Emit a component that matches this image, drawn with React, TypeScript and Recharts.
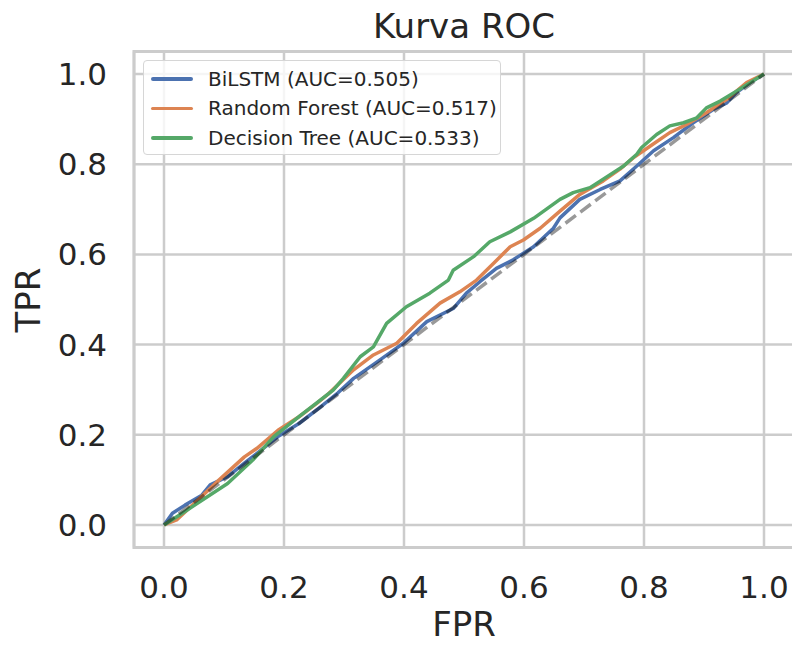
import React from 'react';
import { LineChart, Line, XAxis, YAxis, CartesianGrid, ReferenceArea } from 'recharts';

const axisTicks = [0, 0.2, 0.4, 0.6, 0.8, 1.0];

const bilstmFpr = [0, 0.014, 0.035, 0.063, 0.077, 0.106, 0.134, 0.155, 0.19, 0.225, 0.261, 0.29, 0.316, 0.36, 0.399, 0.438, 0.482, 0.504, 0.527, 0.554, 0.582, 0.616, 0.649, 0.66, 0.693, 0.727, 0.76, 0.788, 0.816, 0.849, 0.882, 0.916, 0.938, 0.954, 0.977, 1.0];
const bilstmTpr = [0, 0.026, 0.044, 0.066, 0.089, 0.107, 0.137, 0.159, 0.196, 0.225, 0.262, 0.293, 0.325, 0.366, 0.403, 0.451, 0.48, 0.514, 0.54, 0.569, 0.588, 0.617, 0.658, 0.681, 0.722, 0.744, 0.763, 0.796, 0.83, 0.859, 0.892, 0.922, 0.936, 0.959, 0.981, 1.0];

const forestFpr = [0, 0.021, 0.056, 0.092, 0.134, 0.155, 0.19, 0.225, 0.254, 0.275, 0.316, 0.349, 0.388, 0.421, 0.46, 0.493, 0.521, 0.549, 0.577, 0.599, 0.627, 0.66, 0.693, 0.732, 0.76, 0.782, 0.81, 0.843, 0.871, 0.904, 0.938, 0.971, 1.0];
const forestTpr = [0, 0.011, 0.055, 0.1, 0.151, 0.17, 0.21, 0.24, 0.269, 0.292, 0.344, 0.377, 0.403, 0.447, 0.492, 0.517, 0.543, 0.58, 0.617, 0.632, 0.658, 0.696, 0.733, 0.763, 0.789, 0.814, 0.84, 0.87, 0.888, 0.914, 0.944, 0.981, 1.0];

const treeFpr = [0, 0.035, 0.106, 0.148, 0.183, 0.225, 0.282, 0.299, 0.327, 0.349, 0.371, 0.404, 0.443, 0.474, 0.482, 0.516, 0.543, 0.577, 0.616, 0.66, 0.682, 0.71, 0.732, 0.766, 0.788, 0.796, 0.821, 0.843, 0.866, 0.888, 0.904, 0.927, 0.954, 1.0];
const treeTpr = [0, 0.03, 0.092, 0.144, 0.196, 0.24, 0.299, 0.325, 0.373, 0.395, 0.447, 0.484, 0.514, 0.543, 0.565, 0.595, 0.628, 0.65, 0.68, 0.722, 0.737, 0.748, 0.767, 0.796, 0.822, 0.837, 0.866, 0.885, 0.892, 0.903, 0.925, 0.94, 0.962, 1.0];

const chanceFpr = [0, 1];
const chanceTpr = [0, 1];

const seriesNames = ['BiLSTM (AUC=0.505)', 'Random Forest (AUC=0.517)', 'Decision Tree (AUC=0.533)'];
const seriesColors = ['#4C72B0', '#DD8452', '#55A868'];

const toPoints = (fpr: number[], tpr: number[]) => fpr.map((x, i) => ({ fpr: x, tpr: tpr[i] }));

const bilstm = toPoints(bilstmFpr, bilstmTpr);
const forest = toPoints(forestFpr, forestTpr);
const tree = toPoints(treeFpr, treeTpr);
const chance = toPoints(chanceFpr, chanceTpr);

const font = '"DejaVu Sans", sans-serif';
const textColor = '#262626';

function RocLegend() {
  return (
    <div
      style={{
        position: 'absolute',
        left: 143,
        top: 60,
        width: 358,
        height: 95,
        border: '1.5px solid #d6d6d6',
        borderRadius: 4,
        background: 'rgba(255,255,255,0.8)',
        boxSizing: 'border-box',
        paddingTop: 3,
      }}
    >
      {seriesNames.map((name, i) => (
        <div key={name} style={{ display: 'flex', alignItems: 'center', height: 29.5 }}>
          <div style={{ width: 42, height: 3.5, marginLeft: 7, background: seriesColors[i], borderRadius: 2 }} />
          <span style={{ marginLeft: 15, fontSize: 20, color: textColor, fontFamily: font, whiteSpace: 'nowrap' }}>{name}</span>
        </div>
      ))}
    </div>
  );
}

export default function App() {
  return (
    <div style={{ position: 'absolute', left: 0, top: 0, width: 792, height: 646, overflow: 'hidden', background: '#fff', fontFamily: font }}>
      <div style={{ position: 'absolute', left: 134, width: 660, top: 6, textAlign: 'center', fontSize: 34, color: textColor, lineHeight: '40px' }}>
        Kurva ROC
      </div>
      <div style={{ position: 'absolute', left: 134, width: 660, top: 604, textAlign: 'center', fontSize: 34, color: textColor, lineHeight: '40px' }}>
        FPR
      </div>
      <div
        style={{
          position: 'absolute',
          left: 28 - 60,
          top: 300 - 20,
          width: 120,
          textAlign: 'center',
          fontSize: 34,
          color: textColor,
          lineHeight: '40px',
          transform: 'rotate(-90deg)',
        }}
      >
        TPR
      </div>
      <LineChart width={800} height={646} margin={{ top: 51.5, right: 6, bottom: 0, left: 0 }}>
        <CartesianGrid stroke="#cccccc" strokeWidth={2.5} />
        <XAxis
          dataKey="fpr"
          type="number"
          domain={[-0.05, 1.05]}
          ticks={axisTicks}
          allowDataOverflow
          height={98.5}
          axisLine={false}
          tickLine={false}
          tickSize={0}
          tickMargin={28}
          tickFormatter={(v: number) => v.toFixed(1)}
          tick={{ fontSize: 31, fill: textColor, fontFamily: font }}
        />
        <YAxis
          dataKey="tpr"
          type="number"
          domain={[-0.05, 1.05]}
          ticks={axisTicks}
          allowDataOverflow
          width={134}
          axisLine={false}
          tickLine={false}
          tickSize={0}
          tickMargin={27}
          tickFormatter={(v: number) => v.toFixed(1)}
          tick={{ fontSize: 31, fill: textColor, fontFamily: font }}
        />
        <ReferenceArea x1={-0.05} x2={1.05} y1={-0.05} y2={1.05} fill="none" stroke="#cccccc" strokeWidth={3} ifOverflow="visible" />
        <Line data={bilstm} dataKey="tpr" name={seriesNames[0]} stroke={seriesColors[0]} strokeWidth={3.5} dot={false} isAnimationActive={false} strokeLinejoin="round" />
        <Line data={forest} dataKey="tpr" name={seriesNames[1]} stroke={seriesColors[1]} strokeWidth={3.5} dot={false} isAnimationActive={false} strokeLinejoin="round" />
        <Line data={tree} dataKey="tpr" name={seriesNames[2]} stroke={seriesColors[2]} strokeWidth={3.5} dot={false} isAnimationActive={false} strokeLinejoin="round" />
        <Line data={chance} dataKey="tpr" stroke="#000" strokeOpacity={0.4} strokeWidth={3.5} strokeDasharray="13 5.6" dot={false} isAnimationActive={false} legendType="none" />
      </LineChart>
      <RocLegend />
    </div>
  );
}
